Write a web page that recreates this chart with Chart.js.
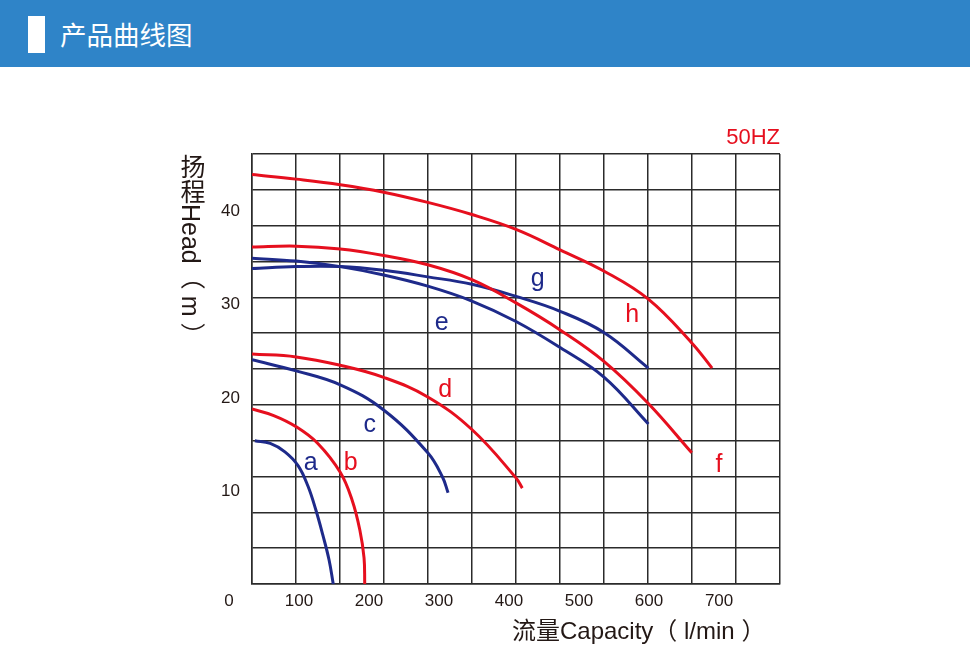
<!DOCTYPE html>
<html>
<head>
<meta charset="utf-8">
<script src="https://cdn.jsdelivr.net/npm/chart.js@4.4.1/dist/chart.umd.min.js"></script>
<style>
  body { margin: 0; background: #fff; width: 970px; height: 670px; position: relative; overflow: hidden;
         font-family: "Liberation Sans", "Noto Sans CJK SC", sans-serif; color: #231815; }
  #chart { position: absolute; left: 0; top: 0; }
  #header { position: absolute; left: 0; top: 0; width: 970px; height: 67px; background: #2f84c8; }
  #header .mark { position: absolute; left: 28px; top: 16px; width: 17px; height: 37px; background: #fff; }
  #header .title { position: absolute; left: 60px; top: 17px; font-size: 26.5px; line-height: 34px; color: #fff;
                   font-family: "Noto Sans CJK SC", sans-serif; }
  #ytitle { position: absolute; left: 178px; top: 154px; writing-mode: vertical-rl; font-size: 25px; line-height: 25px; white-space: pre; }
  #xtitle { position: absolute; left: 512px; top: 619px; font-size: 24px; line-height: 24px; white-space: pre; }
</style>
</head>
<body>
<canvas id="chart" width="970" height="670"></canvas>
<div id="header"><div class="mark"></div><div class="title">产品曲线图</div></div>
<div id="ytitle">扬程Head（ m ）</div>
<div id="xtitle">流量Capacity（ l/min ）</div>
<script>
// axis ranges (l/min, m)
const xMin = 33, xMax = 787;
const yMin = 0, yMax = 46.2;
const gridDivisions = 12;
const xTickValues = [0, 100, 200, 300, 400, 500, 600, 700];
const yTickValues = [10, 20, 30, 40];

// pump curves: [flow l/min, head m]
const curveA = [[37,15.4],[59,15.1],[80,14.2],[99,12.7],[113,10.5],[124,8.0],[134,5.3],[143,2.6],[149,0]];
const curveB = [[33,18.8],[64,18.1],[96,16.9],[127,15.1],[159,12.0],[176,9.0],[187,5.8],[193,2.8],[194,0]];
const curveC = [[33,24.1],[96,22.9],[159,21.4],[221,18.7],[284,14.1],[305,11.5],[313,9.8]];
const curveD = [[33,24.7],[96,24.4],[159,23.5],[221,22.2],[284,20.1],[347,16.6],[410,11.4],[419,10.3]];
const curveE = [[33,35.0],[96,34.7],[159,34.1],[221,33.2],[284,32.0],[347,30.4],[410,28.2],[473,25.4],[536,22.2],[599,17.2]];
const curveF = [[33,36.2],[96,36.3],[159,36.0],[221,35.3],[284,34.3],[347,32.7],[410,30.2],[473,27.3],[536,23.9],[599,19.4],[661,14.1]];
const curveG = [[33,33.9],[96,34.1],[159,34.1],[221,33.7],[284,33.0],[347,32.2],[410,30.9],[473,29.3],[536,27.0],[599,23.2]];
const curveH = [[33,44.0],[96,43.5],[159,42.9],[221,42.1],[284,41.0],[347,39.7],[410,38.1],[473,35.9],[536,33.6],[599,30.6],[661,25.9],[690,23.2]];

const curveNames = ['a', 'b', 'c', 'd', 'e', 'f', 'g', 'h'];
const curves = [curveA, curveB, curveC, curveD, curveE, curveF, curveG, curveH];
// where each letter sits (flow, head at text baseline)
const labelFlow = [117, 174, 201, 309, 304, 700, 441, 576];
const labelHead = [12.3, 12.3, 16.3, 20.1, 27.3, 12.0, 32.0, 28.2];

const RED = '#e60f1e';
const BLUE = '#1e2a8a';
const INK = '#231815';
const curveColors = [BLUE, RED, BLUE, RED, BLUE, RED, BLUE, RED];

Chart.defaults.font.family = '"Liberation Sans", Arial, sans-serif';
Chart.defaults.color = INK;

function gridTicks(min, max) {
  var out = [];
  for (var i = 0; i <= gridDivisions; i++) {
    out.push({ value: min + (max - min) * i / gridDivisions });
  }
  return out;
}

// letters next to the curves
const curveLabelPlugin = {
  id: 'curveLabels',
  afterDatasetsDraw(chart) {
    const ctx = chart.ctx;
    const xs = chart.scales.x, ys = chart.scales.y;
    ctx.save();
    ctx.font = '25px "Liberation Sans", Arial, sans-serif';
    ctx.textAlign = 'center';
    ctx.textBaseline = 'alphabetic';
    curveNames.forEach(function (name, i) {
      ctx.fillStyle = curveColors[i];
      ctx.fillText(name, xs.getPixelForValue(labelFlow[i]), ys.getPixelForValue(labelHead[i]));
    });
    ctx.restore();
  }
};

const datasets = curves.map(function (c, i) {
  return {
    label: curveNames[i],
    data: c.map(function (p) { return { x: p[0], y: p[1] }; }),
    borderColor: curveColors[i],
    borderWidth: 3,
    pointRadius: 0,
    fill: false,
    tension: 0.4,
    xAxisID: 'x',
    yAxisID: 'y'
  };
});

const gridStyle = { color: '#2b2b2b', lineWidth: 1.5, drawTicks: false };

new Chart(document.getElementById('chart'), {
  type: 'line',
  data: { datasets: datasets },
  options: {
    responsive: false,
    animation: false,
    layout: { padding: { top: 125, right: 190, bottom: 0, left: 0 } },
    plugins: {
      legend: { display: false },
      tooltip: { enabled: false },
      title: {
        display: true,
        text: '50HZ',
        align: 'end',
        fullSize: false,
        color: RED,
        font: { size: 22, weight: 'normal' },
        padding: { top: 0, bottom: 2.6 }
      }
    },
    scales: {
      x: {
        type: 'linear', position: 'bottom', min: xMin, max: xMax, weight: 0,
        afterBuildTicks: function (s) { s.ticks = gridTicks(xMin, xMax); },
        afterFit: function (s) { s.height = 0; },
        ticks: { display: false },
        grid: gridStyle,
        border: { display: true, color: '#2b2b2b', width: 1.5 }
      },
      xLabels: {
        type: 'linear', position: 'bottom', min: xMin, max: xMax, weight: 1,
        afterBuildTicks: function (s) { s.ticks = xTickValues.map(function (v) { return { value: v }; }); },
        afterFit: function (s) { s.height = 86; },
        ticks: { autoSkip: false, maxRotation: 0, minRotation: 0, padding: 7, font: { size: 17 } },
        grid: { display: false, drawTicks: false },
        border: { display: false }
      },
      y: {
        type: 'linear', position: 'left', min: yMin, max: yMax, weight: 0,
        afterBuildTicks: function (s) { s.ticks = gridTicks(yMin, yMax); },
        afterFit: function (s) { s.width = 0; },
        ticks: { display: false },
        grid: gridStyle,
        border: { display: true, color: '#2b2b2b', width: 1.5 }
      },
      yLabels: {
        type: 'linear', position: 'left', min: yMin, max: yMax, weight: 1,
        afterBuildTicks: function (s) { s.ticks = yTickValues.map(function (v) { return { value: v }; }); },
        afterFit: function (s) { s.width = 252; },
        ticks: { autoSkip: false, padding: 12, font: { size: 17 } },
        grid: { display: false, drawTicks: false },
        border: { display: false }
      }
    }
  },
  plugins: [curveLabelPlugin]
});
</script>
</body>
</html>
